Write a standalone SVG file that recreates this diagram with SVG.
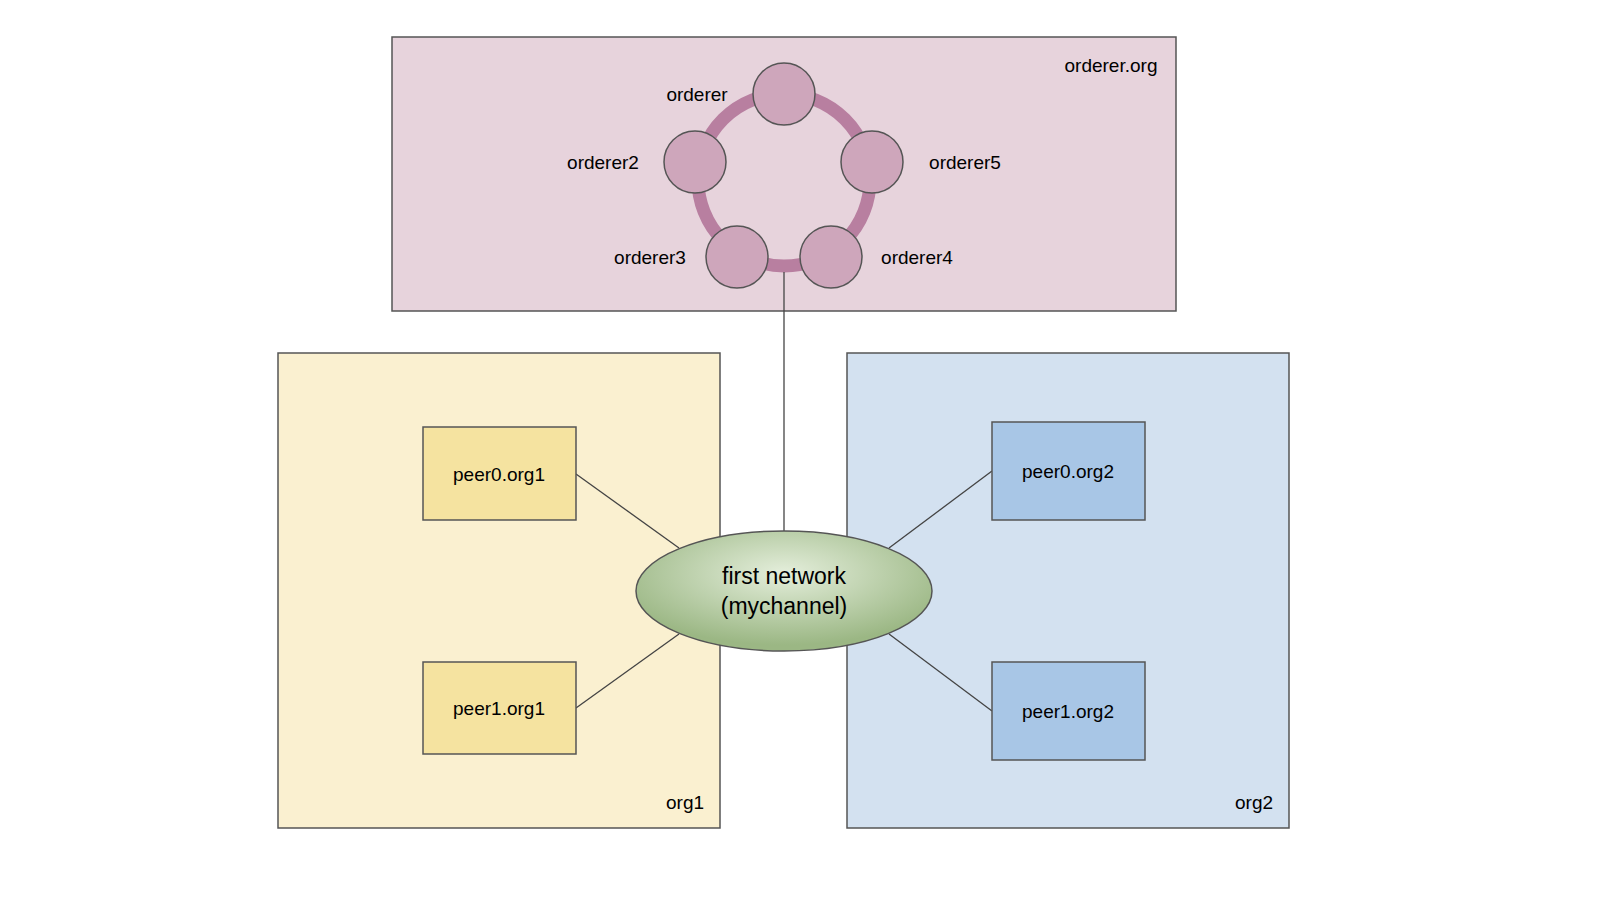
<svg xmlns="http://www.w3.org/2000/svg" width="1600" height="900" viewBox="0 0 1600 900">
<style>
text{font-family:"Liberation Sans",Arial,sans-serif;font-size:19px;fill:#000}
.c{text-anchor:middle}
.box{stroke:#555;stroke-width:1.5}
.ord{fill:#cea6bb;stroke:#555;stroke-width:1.5}
.ln{stroke:#444;stroke-width:1.3;fill:none}
</style>
<defs><radialGradient id="g" cx="50%" cy="35%" r="60%"><stop offset="0" stop-color="#e4eedb"/><stop offset="1" stop-color="#9bb784"/></radialGradient></defs>
<rect width="1600" height="900" fill="#fff"/>
<g id="ordererorg"><rect class="box" x="392" y="37" width="784" height="274" fill="#e7d3dc"/><text class="c" x="1111" y="72">orderer.org</text></g>
<g id="org1"><rect class="box" x="278" y="353" width="442" height="475" fill="#faf0d0"/><text class="c" x="685" y="809">org1</text></g>
<g id="org2"><rect class="box" x="847" y="353" width="442" height="475" fill="#d3e1f0"/><text class="c" x="1254" y="809">org2</text></g>
<g id="connectors">
<circle cx="784" cy="180" r="86" fill="none" stroke="#b87fa0" stroke-width="13"/>
<line class="ln" x1="784" y1="272" x2="784" y2="531"/>
<line class="ln" x1="576" y1="474" x2="679" y2="548"/>
<line class="ln" x1="576" y1="708" x2="679" y2="634"/>
<line class="ln" x1="992" y1="471" x2="889" y2="548"/>
<line class="ln" x1="992" y1="711" x2="889" y2="634"/>
</g>
<g id="orderer"><circle class="ord" cx="784" cy="94" r="31"/><text class="c" x="697" y="101">orderer</text></g>
<g id="orderer2"><circle class="ord" cx="695" cy="162" r="31"/><text class="c" x="603" y="169">orderer2</text></g>
<g id="orderer5"><circle class="ord" cx="872" cy="162" r="31"/><text class="c" x="965" y="169">orderer5</text></g>
<g id="orderer3"><circle class="ord" cx="737" cy="257" r="31"/><text class="c" x="650" y="264">orderer3</text></g>
<g id="orderer4"><circle class="ord" cx="831" cy="257" r="31"/><text class="c" x="917" y="264">orderer4</text></g>
<g id="peer0org1"><rect class="box" x="423" y="427" width="153" height="93" fill="#f5e3a0"/><text class="c" x="499" y="481">peer0.org1</text></g>
<g id="peer1org1"><rect class="box" x="423" y="662" width="153" height="92" fill="#f5e3a0"/><text class="c" x="499" y="715">peer1.org1</text></g>
<g id="peer0org2"><rect class="box" x="992" y="422" width="153" height="98" fill="#a8c6e6"/><text class="c" x="1068" y="478">peer0.org2</text></g>
<g id="peer1org2"><rect class="box" x="992" y="662" width="153" height="98" fill="#a8c6e6"/><text class="c" x="1068" y="718">peer1.org2</text></g>
<g id="network"><ellipse cx="784" cy="591" rx="148" ry="60" fill="url(#g)" stroke="#555" stroke-width="1.5"/>
<text class="c" x="784" y="584" style="font-size:23px">first network</text><text class="c" x="784" y="614" style="font-size:23px">(mychannel)</text></g>
</svg>
